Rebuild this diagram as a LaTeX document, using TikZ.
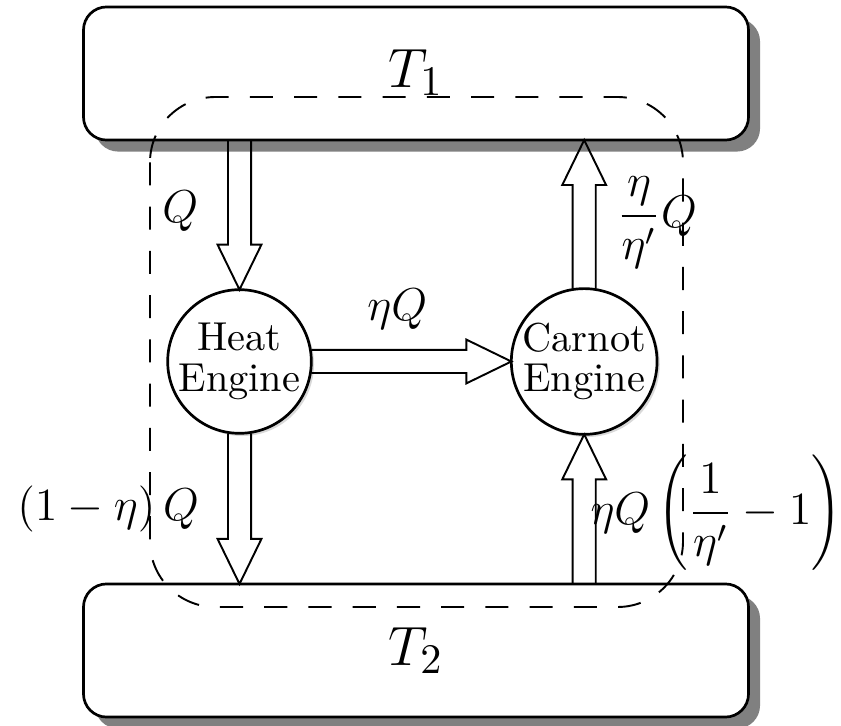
\documentclass[tikz,border=0pt]{standalone}
\usetikzlibrary{positioning,calc,shadows}

\tikzset{
  reservoir/.style={draw, line width=0.7pt, rectangle, rounded corners=6pt, fill=white,
    minimum width=172.9pt, minimum height=34.6pt, inner sep=0pt, outer sep=0pt,
    font=\fontsize{15.5}{18}\selectfont,
    drop shadow={shadow xshift=3pt, shadow yshift=-3pt, fill=black!50, opacity=1}},
  engine/.style={draw, line width=0.7pt, circle, fill=white, minimum size=34.6pt,
    inner sep=0pt, outer sep=0pt, align=center, font=\fontsize{10.5}{10.5}\selectfont,
    drop shadow={shadow xshift=0.7pt, shadow yshift=-0.7pt, opacity=0.3}},
  % hollow block arrow, open at its tail
  fatarrow/.style={draw, line width=0.5pt, to path={
    ($(\tikztostart)!3pt!90:(\tikztotarget)$)
    -- ($(\tikztotarget)!11.7pt!(\tikztostart)!3pt!-90:(\tikztostart)$)
    -- ($(\tikztotarget)!11.7pt!(\tikztostart)!5.7pt!-90:(\tikztostart)$)
    -- (\tikztotarget)
    -- ($(\tikztotarget)!11.7pt!(\tikztostart)!5.7pt!90:(\tikztostart)$)
    -- ($(\tikztotarget)!11.7pt!(\tikztostart)!3pt!90:(\tikztostart)$)
    -- ($(\tikztostart)!3pt!-90:(\tikztotarget)$) \tikztonodes}},
  flow/.style={inner sep=0pt, font=\large},
  system/.style={draw, line width=0.5pt, dash pattern=on 6pt off 5.5pt, rounded corners=17pt}
}

\begin{document}
\begin{tikzpicture}[x=0.26pt, y=-0.26pt]
    \useasboundingbox (0,0) rectangle (841,726);

    \node[reservoir] (hot) at (416,73.5) {\raisebox{2.5pt}{$T_1$}};
    \node[reservoir] (cold) at (416,650.5) {\raisebox{-2pt}{$T_2$}};
    \node[engine] (heat) at (239.5,361.5) {Heat\\Engine};
    \node[engine, right=52pt of heat] (carnot) {Carnot\\Engine};

    \coordinate (q_in) at (heat.north |- hot.south);
    \coordinate (q_out) at (heat.south |- cold.north);
    \coordinate (w_out) at (carnot.north |- hot.south);
    \coordinate (w_in) at (carnot.south |- cold.north);

    \path
    (q_in) edge[fatarrow] node[flow, left=7.5pt, pos=0.32] {$Q$} (heat.north)
    (heat.east) edge[fatarrow] node[flow, above=11pt, pos=0.445] {$\eta Q$} (carnot.west)
    (heat.south) edge[fatarrow] node[flow, left=7.3pt, pos=0.28] {$\left(1-\eta\right) Q$} (q_out)
    (carnot.north) edge[fatarrow] node[flow, right=5.3pt, pos=0.36] {$\displaystyle\frac{\eta}{\eta'}Q$} (w_out)
    (w_in) edge[fatarrow] node[flow, right=-1.6pt, pos=0.32] {$\displaystyle\eta Q\left(\frac{1}{\eta'}-1\right)$} (carnot.south);

    % closed system boundary
    \draw[system] (150,97) rectangle (683,607);
\end{tikzpicture}
\end{document}
